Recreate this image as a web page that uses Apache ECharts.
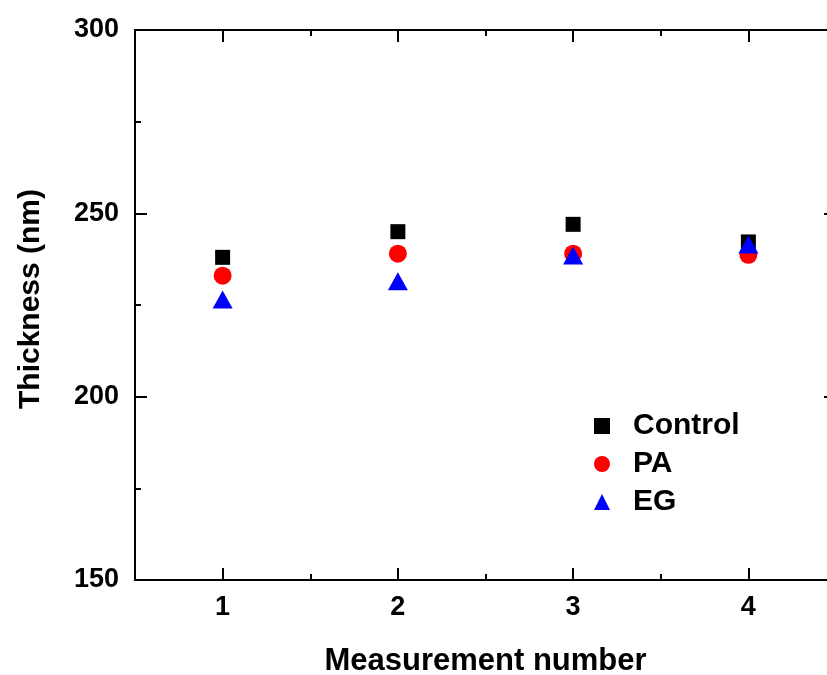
<!DOCTYPE html>
<html>
<head>
<meta charset="utf-8">
<script src="https://cdn.jsdelivr.net/npm/echarts@6/dist/echarts.min.js"></script>
<style>html,body{margin:0;padding:0;background:#fff}#c{width:827px;height:675px}</style>
</head>
<body>
<div id="c"></div>
<script>
const measurements = [1, 2, 3, 4];
const control = [238, 245, 247, 242.2];
const pa = [233, 239, 239, 238.7];
const eg = [226.5, 231.5, 238.5, 241.5];
const xMajorTicks = [1, 2, 3, 4];
const xMinorTicks = [1.5, 2.5, 3.5];
const yTicks = [150, 200, 250, 300];

const FONT = '"Liberation Sans", Arial, sans-serif';
const AX = {color: '#000', width: 2};

function pairs(vals) { return measurements.map((m, i) => [m, vals[i]]); }

const xBase = (pos, extra) => Object.assign({
  type: 'value', min: 0.5, max: 4.5, position: pos, gridIndex: 0,
  axisLine: {show: true, onZero: false, lineStyle: AX},
  splitLine: {show: false},
  axisLabel: {show: false},
  axisTick: {show: false}
}, extra);

const chart = echarts.init(document.getElementById('c'), null, {renderer: 'canvas'});
chart.setOption({
  backgroundColor: '#fff',
  animation: false,
  grid: {left: 135, top: 30, width: 701, height: 550, containLabel: false, outerBoundsMode: 'none'},
  xAxis: [
    xBase('bottom', {
      name: 'Measurement number', nameLocation: 'middle', nameGap: 66,
      nameTextStyle: {fontFamily: FONT, fontWeight: 'bold', fontSize: 31, color: '#000'},
      axisTick: {show: true, inside: true, length: 12, lineStyle: AX, customValues: xMajorTicks},
      axisLabel: {show: true, customValues: xMajorTicks, margin: 14, fontFamily: FONT, fontWeight: 'bold', fontSize: 27, color: '#000'}
    }),
    xBase('bottom', {
      axisLine: {show: false},
      axisTick: {show: true, inside: true, length: 6, lineStyle: AX, customValues: xMinorTicks}
    }),
    xBase('top', {
      axisTick: {show: true, inside: true, length: 12, lineStyle: AX, customValues: xMajorTicks}
    }),
    xBase('top', {
      axisLine: {show: false},
      axisTick: {show: true, inside: true, length: 6, lineStyle: AX, customValues: xMinorTicks}
    })
  ],
  yAxis: [
    {
      type: 'value', min: 150, max: 300, interval: 50, position: 'left',
      name: 'Thickness (nm)', nameLocation: 'middle', nameGap: 89, nameRotate: 90,
      nameTextStyle: {fontFamily: FONT, fontWeight: 'bold', fontSize: 30, color: '#000', padding: [0, 0, 0, 12]},
      axisLine: {show: true, onZero: false, lineStyle: AX},
      axisTick: {show: true, inside: true, length: 12, lineStyle: AX},
      minorTick: {show: true, splitNumber: 2, length: 6, lineStyle: AX},
      splitLine: {show: false},
      axisLabel: {margin: 16, fontFamily: FONT, fontWeight: 'bold', fontSize: 27, color: '#000',
        customValues: yTicks}
    },
    {
      type: 'value', min: 150, max: 300, interval: 50, position: 'right',
      axisLine: {show: true, onZero: false, lineStyle: AX},
      axisTick: {show: true, inside: true, length: 12, lineStyle: AX},
      minorTick: {show: true, splitNumber: 2, length: 6, lineStyle: AX},
      splitLine: {show: false},
      axisLabel: {show: false}
    }
  ],
  legend: {
    orient: 'vertical', left: 589, top: 406,
    itemWidth: 16, itemHeight: 16, itemGap: 8,
    textStyle: {fontFamily: FONT, fontWeight: 'bold', fontSize: 30, color: '#000', lineHeight: 30, padding: [0, 0, 0, 18]},
    data: ['Control', 'PA', 'EG']
  },
  series: [
    {name: 'Control', type: 'scatter', symbol: 'rect', symbolSize: 15,
      itemStyle: {color: '#000000', opacity: 1}, data: pairs(control)},
    {name: 'PA', type: 'scatter', symbol: 'circle', symbolSize: 18,
      itemStyle: {color: '#ff0000', opacity: 1}, data: pairs(pa)},
    {name: 'EG', type: 'scatter', symbol: 'triangle', symbolSize: [20, 18],
      itemStyle: {color: '#0000ff', opacity: 1}, data: pairs(eg)}
  ]
});
</script>
</body>
</html>
